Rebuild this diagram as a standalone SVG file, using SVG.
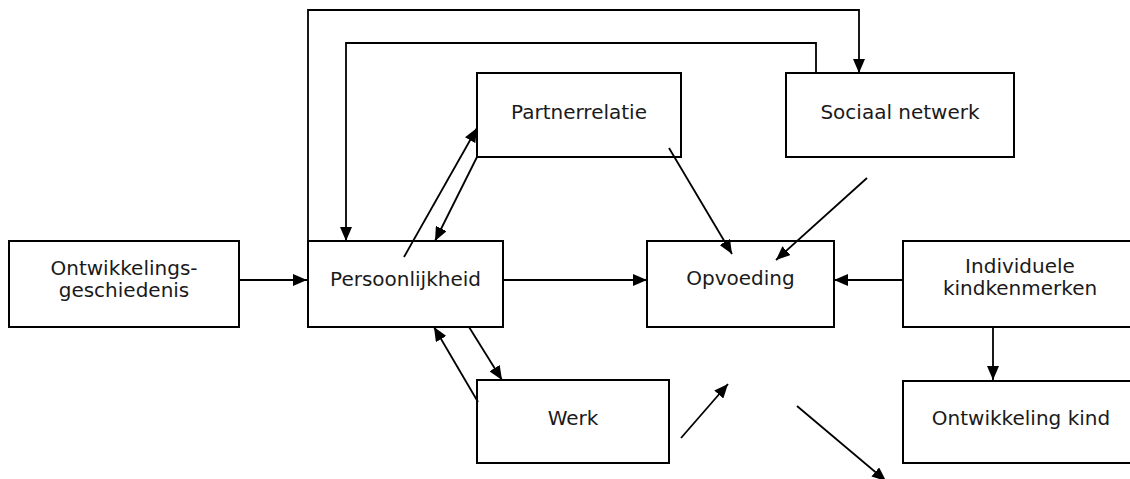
<svg xmlns="http://www.w3.org/2000/svg" width="1130" height="479" viewBox="0 0 1130 479">
<style>
.box{fill:#fff;stroke:#000;stroke-width:2}
.lbl{font-family:"DejaVu Sans",Verdana,sans-serif;font-size:20px;fill:#1a1a1a;text-anchor:middle}
.con{fill:none;stroke:#000;stroke-width:1.8;marker-end:url(#ah)}
</style>
<defs>
<marker id="ah" markerUnits="userSpaceOnUse" markerWidth="14" markerHeight="12" refX="14" refY="6" orient="auto">
<path d="M0,0 L14,6 L0,12 z" fill="#000"/>
</marker>
</defs>
<rect width="1130" height="479" fill="#fff"/>
<g id="n-ontwikkelingsgeschiedenis"><rect class="box" x="9" y="241" width="230" height="86"/><text class="lbl" x="124" y="275">Ontwikkelings-</text><text class="lbl" x="124" y="297">geschiedenis</text></g>
<g id="n-persoonlijkheid"><rect class="box" x="308" y="241" width="195" height="86"/><text class="lbl" x="405.5" y="286">Persoonlijkheid</text></g>
<g id="n-partnerrelatie"><rect class="box" x="477" y="73" width="204" height="84"/><text class="lbl" x="579" y="119">Partnerrelatie</text></g>
<g id="n-sociaal"><rect class="box" x="786" y="73" width="228" height="84"/><text class="lbl" x="900" y="119">Sociaal netwerk</text></g>
<g id="n-opvoeding"><rect class="box" x="647" y="241" width="187" height="86"/><text class="lbl" x="740.5" y="285">Opvoeding</text></g>
<g id="n-individuele"><rect class="box" x="903" y="241" width="234" height="86"/><text class="lbl" x="1020" y="273">Individuele</text><text class="lbl" x="1020" y="295">kindkenmerken</text></g>
<g id="n-werk"><rect class="box" x="477" y="380" width="192" height="83"/><text class="lbl" x="573" y="425">Werk</text></g>
<g id="n-ontwikkeling-kind"><rect class="box" x="903" y="381" width="234" height="82"/><text class="lbl" x="1021" y="425">Ontwikkeling kind</text></g>
<g id="connectors">
<path class="con" d="M239,280 L307,280"/>
<path class="con" d="M503,280 L647,280"/>
<path class="con" d="M903,280 L834,280"/>
<path class="con" d="M993,327 L993,380"/>
<path class="con" d="M308,241 L308,10 L859,10 L859,73"/>
<path class="con" d="M816,73 L816,43 L346,43 L346,241"/>
<path class="con" d="M404,257 L477,128"/>
<path class="con" d="M477,157 L435,241"/>
<path class="con" d="M669,148 L732,254"/>
<path class="con" d="M867,178 L776,260"/>
<path class="con" d="M469,327 L502,380"/>
<path class="con" d="M478,402 L434,327"/>
<path class="con" d="M681,438 L728,384"/>
<path class="con" d="M797,406 L886,481"/>
</g>
</svg>
